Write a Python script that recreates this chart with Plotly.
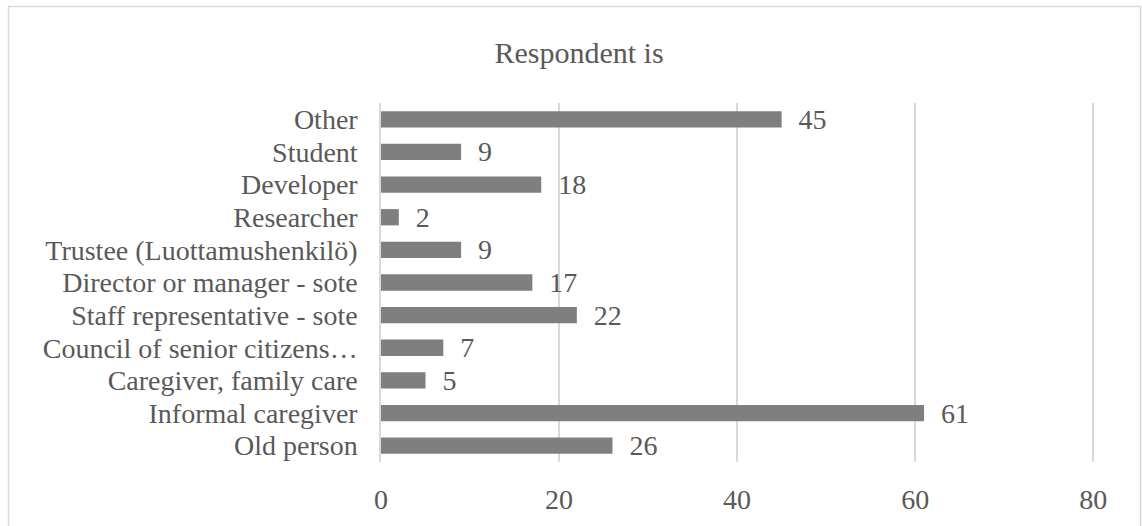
import plotly.graph_objects as go

categories = [
    "Old person",
    "Informal caregiver",
    "Caregiver, family care",
    "Council of senior citizens…",
    "Staff representative - sote",
    "Director or manager - sote",
    "Trustee (Luottamushenkilö)",
    "Researcher",
    "Developer",
    "Student",
    "Other",
]
values = [26, 61, 5, 7, 22, 17, 9, 2, 18, 9, 45]
x_ticks = [0, 20, 40, 60, 80]

W, H = 1142, 526
ML, MR, MT, MB = 381, 47, 103, 64
pw, ph = W - ML - MR, H - MT - MB

FONT = "Liberation Serif, Times New Roman, serif"
TXT = "#595959"

fig = go.Figure(
    go.Bar(
        y=categories,
        x=values,
        orientation="h",
        marker=dict(color="#7f7f7f", line=dict(width=0)),
        text=values,
        texttemplate="\u00a0\u00a0%{x}",
        textposition="outside",
        constraintext="none",
        cliponaxis=False,
        textfont=dict(family=FONT, size=28, color=TXT),
        hoverinfo="skip",
    )
)

# chart border (in paper coords computed from pixel positions)
fig.add_shape(
    type="rect",
    xref="paper",
    yref="paper",
    x0=(8.5 - ML) / pw,
    x1=(1140.5 - ML) / pw,
    y0=(H - MB - 540) / ph,
    y1=(H - MB - 6.5) / ph,
    line=dict(color="#d9d9d9", width=1.5),
    fillcolor="rgba(0,0,0,0)",
    layer="below",
)

fig.update_layout(
    width=W,
    height=H,
    margin=dict(l=ML, r=MR, t=MT, b=MB, pad=0),
    paper_bgcolor="white",
    plot_bgcolor="white",
    showlegend=False,
    bargap=0.5,
    title=dict(
        text="Respondent is",
        x=579 / W,
        xanchor="center",
        y=1 - 52 / H,
        yanchor="middle",
        font=dict(family=FONT, size=30, color=TXT),
    ),
    xaxis=dict(
        range=[0, 80.2],
        tickvals=x_ticks,
        ticktext=[str(t) for t in x_ticks],
        showgrid=True,
        gridcolor="#d9d9d9",
        gridwidth=1.5,
        zeroline=False,
        showline=False,
        ticks="",
        ticklabelstandoff=18,
        tickfont=dict(family=FONT, size=28, color=TXT),
        fixedrange=True,
    ),
    yaxis=dict(
        categoryorder="array",
        categoryarray=categories,
        tickmode="linear",
        tick0=0,
        dtick=1,
        showgrid=False,
        showline=True,
        linecolor="#d9d9d9",
        linewidth=1.5,
        ticks="",
        ticklabelstandoff=16,
        tickfont=dict(family=FONT, size=28, color=TXT),
        fixedrange=True,
    ),
)

fig.write_html("out.html")
